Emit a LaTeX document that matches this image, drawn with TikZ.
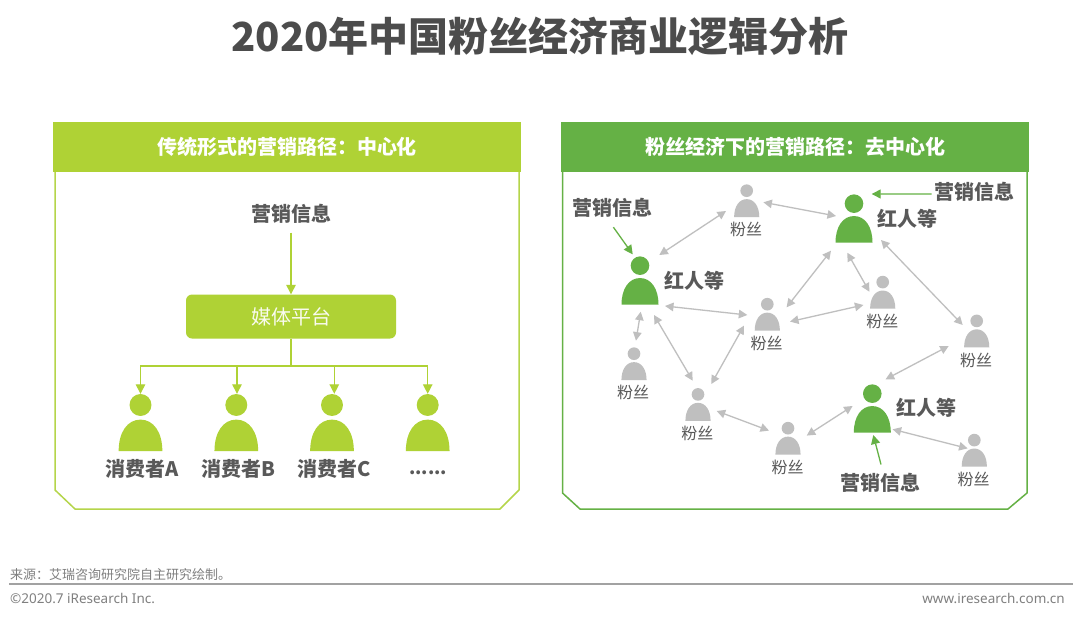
\documentclass[tikz,border=0pt]{standalone}
\usepackage{fontspec}
\setmainfont{Noto Sans CJK SC}
\newfontfamily\latinfont{Noto Sans}
\usetikzlibrary{arrows.meta}
\definecolor{lime}{HTML}{AFD235}
\definecolor{limeline}{HTML}{B5D54A}
\definecolor{leaf}{HTML}{65B145}
\definecolor{ash}{HTML}{BFBFBF}
\definecolor{ink}{HTML}{595959}
\definecolor{foot}{HTML}{7F7F7F}
\tikzset{
  title/.style={text=ink!85!black,font=\fontsize{40}{40}\selectfont\bfseries},
  headbar/.style={minimum height=50pt,inner sep=0pt,text=white,font=\fontsize{20}{20}\selectfont\bfseries},
  panelline/.style={line width=1.5pt,line join=round},
  label/.style={text=ink,inner sep=0pt,font=\fontsize{20}{20}\selectfont\bfseries},
  fanlabel/.style={text=ink,inner sep=0pt,font=\fontsize{16}{16}\selectfont},
  personbox/.style={inner sep=0pt,minimum width=#1*37pt,minimum height=#1*48.3pt},
  limearrow/.style={draw=lime,line width=1.3pt,-{Triangle[length=9.5pt,width=9.5pt]}},
  leafarrow/.style={draw=leaf,line width=1.3pt,-{Triangle[length=9pt,width=9pt]}},
  asharrow/.style={draw=ash,line width=1.3pt,{Triangle[length=8.5pt,width=8.5pt]}-{Triangle[length=8.5pt,width=8.5pt]}},
}
% name, cx, cy, scale, colour
\newcommand{\drawperson}[5]{%
  \node[personbox=#4] (#1) at (#2,#3) {};
  \begin{scope}[shift={(#2,#3)},scale=#4]
    \fill[#5] (0,-14.85) circle[radius=9.3];
    \fill[#5] (-18.5,24.15) .. controls (-18.5,8) and (-11,-2.45) .. (0,-2.45)
              .. controls (11,-2.45) and (18.5,8) .. (18.5,24.15) -- cycle;
  \end{scope}}
% from, dx, dy, to, dx, dy
\newcommand{\linkpeople}[6]{\draw[asharrow] ([shift={(#2,#3)}]#1.center) -- ([shift={(#5,#6)}]#4.center);}
\newcommand{\fan}[5]{\drawperson{#1}{#2}{#3}{0.68}{ash}\node[fanlabel] (#1t) at (#4,#5) {粉丝};}
\begin{document}
\begin{tikzpicture}[x=1pt,y=-1pt]
\fill[white] (0,0) rectangle (1080,619);
\useasboundingbox (0,0) rectangle (1080,619);

\node[title] (maintitle) at (540,36.5) {2020年中国粉丝经济商业逻辑分析};

% left panel
\draw[limeline,panelline] (55,172) -- (55,490) -- (75,509) -- (500,509) -- (519,490) -- (519,172);
\node[headbar,fill=lime,minimum width=467.5pt] (lefthead) at (287,147) {传统形式的营销路径：中心化};
\node[label,minimum height=38pt] (info) at (291,213.5) {营销信息};
\node[fill=lime,rounded corners=6pt,minimum width=210pt,minimum height=44pt,inner sep=0pt,text=white!92!lime,font=\fontsize{20}{20}\selectfont] (media) at (291,316.5) {媒体平台};
\draw[limearrow] (info.south) -- (media.north);
\drawperson{pa}{140.5}{422.5}{1.18}{lime}
\drawperson{pb}{236.3}{422.5}{1.18}{lime}
\drawperson{pc}{332}{422.5}{1.18}{lime}
\drawperson{pd}{427.7}{422.5}{1.18}{lime}
\coordinate (bus) at (291,366);
\draw[lime,line width=1.3pt] (media.south) -- (bus);
\draw[limearrow] (bus) -| (pa.north);
\draw[limearrow] (bus) -| ([xshift=0.7pt]pb.north);
\draw[limearrow] (bus) -| ([xshift=2.3pt]pc.north);
\draw[limearrow] (bus) -| (pd.north);
\node[label] (la) at (142,468.5) {消费者A};
\node[label] (lb) at (238,468.5) {消费者B};
\node[label] (lc) at (334,468.5) {消费者C};
\node[label,font=\fontsize{18}{18}\selectfont\bfseries] (ld) at (428,473) {......};

% right panel
\draw[leaf,panelline] (562.5,171) -- (562.5,493) -- (580,509) -- (1008,509) -- (1027,493) -- (1027,171);
\node[headbar,fill=leaf,minimum width=467.5pt] (righthead) at (795,146.5) {粉丝经济下的营销路径：去中心化};

\drawperson{ga}{640}{280.5}{1}{leaf}
\drawperson{gb}{854}{218.5}{1}{leaf}
\drawperson{gc}{872.3}{408.5}{1}{leaf}
\node[label] (gat) at (694,281.2) {红人等};
\node[label] (gbt) at (907.7,218.8) {红人等};
\node[label] (gct) at (926.7,407.8) {红人等};

\fan{fa}{746.7}{200.8}{746}{229.3}
\fan{fb}{882.7}{292.2}{882.3}{321}
\fan{fc}{767.3}{314.3}{766.7}{343.3}
\fan{fd}{976.7}{331}{976}{360}
\fan{fe}{634}{363.8}{633}{392.7}
\fan{ff}{698}{404.5}{697.3}{433.3}
\fan{fg}{788}{438.3}{787.7}{467.3}
\fan{fh}{974.3}{450.2}{973.7}{479}

\linkpeople{fa}{-20.7}{10.2}{ga}{19.3}{-25.5}
\linkpeople{fa}{16.7}{1.5}{gb}{-18}{-2.5}
\linkpeople{gb}{-23}{32.2}{fc}{19.3}{-7}
\linkpeople{gb}{-6.7}{34.2}{fb}{-13.3}{-0.5}
\linkpeople{gb}{27}{21.5}{fd}{-14}{-6}
\linkpeople{fc}{22.7}{7.3}{fb}{-19.3}{12.8}
\linkpeople{ga}{25}{25.5}{fc}{-20}{0.7}
\linkpeople{ga}{0.7}{31.2}{fe}{2}{-23.2}
\linkpeople{ga}{14}{34.5}{ff}{-5.3}{-23.8}
\linkpeople{fc}{-23.3}{11.3}{ff}{13.3}{-20.5}
\linkpeople{ff}{18.7}{6.5}{fg}{-19}{-7.7}
\linkpeople{fg}{18.7}{-2.7}{gc}{-19.7}{-2.5}
\linkpeople{gc}{13.3}{-29.2}{fd}{-28}{15}
\linkpeople{gc}{20.3}{20.8}{fh}{-6.7}{-1.8}

\node[label] (ia) at (612.7,208.2) {营销信息};
\node[label] (ib) at (974,192.2) {营销信息};
\node[label] (ic) at (880.7,483.2) {营销信息};
\draw[leafarrow] ([shift={(0.7,19)}]ia.center) -- ([shift={(-7.3,-26.2)}]ga.center);
\draw[leafarrow] ([shift={(-42.3,1.7)}]ib.center) -- ([shift={(17.7,-24.5)}]gb.center);
\draw[leafarrow] ([shift={(0.3,-18.7)}]ic.center) -- ([shift={(1,26.5)}]gc.center);

% footer
\node[anchor=west,inner sep=0pt,text=foot,font=\fontsize{13}{13}\selectfont] (source) at (10,575) {来源：艾瑞咨询研究院自主研究绘制。};
\coordinate (rulea) at (9,584);
\coordinate (ruleb) at (1073,584);
\draw[ash!85!black,line width=1.8pt] (rulea) -- (ruleb);
\node[anchor=west,inner sep=0pt,text=foot,font=\latinfont\fontsize{13.5}{13.5}\selectfont] (copy) at (10,598) {©2020.7 iResearch Inc.};
\node[anchor=east,inner sep=0pt,text=foot,font=\latinfont\fontsize{13.5}{13.5}\selectfont] (web) at (1065,598.5) {www.iresearch.com.cn};
\end{tikzpicture}
\end{document}
